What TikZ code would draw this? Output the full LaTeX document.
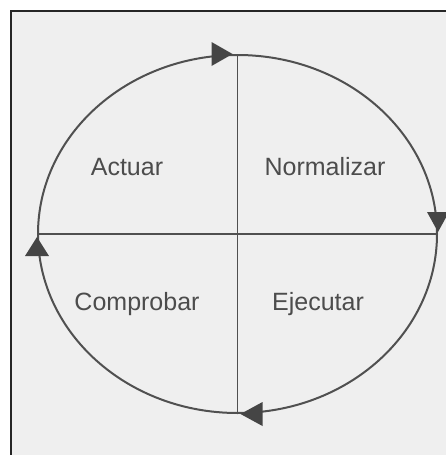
\documentclass[tikz,border=0pt]{standalone}
\usepackage{fontspec}
\setmainfont{Liberation Sans}
\usetikzlibrary{shapes.geometric}
\definecolor{paper}{HTML}{EFEFEF}
\definecolor{ink}{HTML}{505050}
\definecolor{head}{HTML}{454545}
\definecolor{txt}{HTML}{4C4C4C}
\begin{document}
\begin{tikzpicture}[x=1pt,y=-1pt,
  cyclebox/.style={draw=ink,line width=2pt,ellipse,minimum width=399pt,minimum height=358pt,inner sep=0pt},
  axis/.style={draw=ink,line width=1.8pt},
  tip/.style={fill=head,draw=none},
  label/.style={text=txt,font=\fontsize{25}{28}\selectfont,inner sep=0pt,anchor=base}]
\useasboundingbox (0,0) rectangle (446,455);
\fill[white] (0,0) rectangle (446,455);
\fill[paper] (11,11) rectangle (446,455);
\draw[black!85,line width=2pt] (11,456) -- (11,11) -- (447,11);
\node[cyclebox] (cyc) at (237.5,234) {};
\draw[axis] (cyc.north) -- (cyc.south);
\draw[axis] (cyc.west) -- (cyc.east);
% arrowheads
\fill[tip] (cyc.north) ++(-5,0) -- ++(-21,-12) -- ++(0,24) -- cycle;
\fill[tip] (cyc.east) ++(0,-2) -- ++(-11,-20) -- ++(22,0) -- cycle;
\fill[tip] (cyc.south) ++(3,0) -- ++(22,-12) -- ++(0,24) -- cycle;
\fill[tip] (cyc.west) ++(0,3) -- ++(-12,19) -- ++(24,0) -- cycle;
% labels
\node[label] (act) at (127,175) {Actuar};
\node[label] (nor) at (325,175) {Normalizar};
\node[label] (com) at (137,310) {Comprobar};
\node[label] (eje) at (318,310) {Ejecutar};
\end{tikzpicture}
\end{document}
